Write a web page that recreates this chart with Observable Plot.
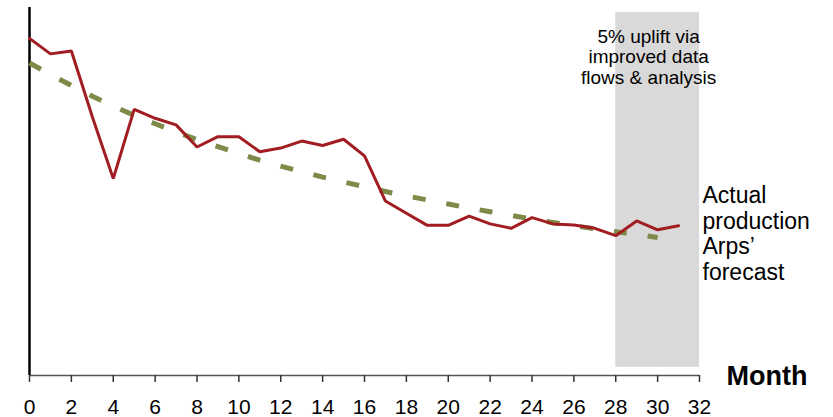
<!DOCTYPE html>
<html>
<head>
<meta charset="utf-8">
<script src="https://cdn.jsdelivr.net/npm/d3@7"></script>
<script src="https://cdn.jsdelivr.net/npm/@observablehq/plot@0.6"></script>
<style>
  html, body { margin: 0; padding: 0; background: #fff; }
  #chart { width: 833px; height: 417px; }
</style>
</head>
<body>
<div id="chart"></div>
<script>
// Months
const actualMonths = [0,1,2,3,4,5,6,7,8,9,10,11,12,13,14,15,16,17,18,19,20,21,22,23,24,25,26,27,28,29,30,31];
// Actual production (index, arbitrary units)
const actualValues = [91.6,87.4,88.2,70.3,53.5,72.3,69.9,68.1,62.1,64.9,64.9,60.8,61.8,63.7,62.5,64.2,59.7,47.4,44.1,40.8,40.8,43.3,41.2,40.0,42.9,41.2,40.9,40.0,38.0,42.0,39.6,40.7];
// Arps' forecast
const forecastMonths = [0,1,2,3,4,5,6,7,8,9,10,11,12,13,14,15,16,17,18,19,20,21,22,23,24,25,26,27,28,29,30];
const forecastValues = [84.9,81.8,78.8,75.9,73.2,70.7,68.4,66.2,64.1,62.2,60.3,58.5,56.9,55.4,53.9,52.6,51.3,50.0,48.8,47.7,46.6,45.5,44.5,43.5,42.5,41.6,40.7,39.9,39.1,38.3,37.5];
// Tick labels
const xTicks = [0,2,4,6,8,10,12,14,16,18,20,22,24,26,28,30,32];
// Highlighted period
const uplift = {x1: 28, x2: 32, y1: 2.2, y2: 98.6};
// Texts
const upliftLabel = "5% uplift via\nimproved data\nflows & analysis";
const seriesLabels = [
  {label: "Actual\nproduction", y: 51.8},
  {label: "Arps\u2019\nforecast", y: 37.9}
];
const xLabel = "Month";

const actual = actualMonths.map((m, i) => ({month: m, value: actualValues[i]}));
const forecast = forecastMonths.map((m, i) => ({month: m, value: forecastValues[i]}));

const chart = Plot.plot({
  width: 833,
  height: 417,
  marginLeft: 29,
  marginRight: 134,
  marginTop: 7,
  marginBottom: 42,
  style: {fontFamily: "'Liberation Sans', Arial, sans-serif", fontSize: "21px", color: "#000", background: "#fff"},
  x: {domain: [0, 32], axis: null},
  y: {domain: [0, 100], axis: null},
  marks: [
    Plot.rect([uplift], {x1: "x1", x2: "x2", y1: "y1", y2: "y2", fill: "#D9D9D9"}),
    Plot.text([upliftLabel], {x: 30, y: 94.4, text: d => d, dx: -9, fontSize: 19, lineHeight: 1.08, lineAnchor: "top", textAnchor: "middle", fill: "#000"}),
    Plot.ruleY([0], {x1: 0, x2: 32, stroke: "#555", strokeWidth: 1.5}),
    Plot.tickX(xTicks, {x: d => d, y1: 0, y2: 0, stroke: "none"}),
    Plot.axisX({ticks: xTicks, tickSize: 7, tickPadding: 17, tickFormat: d => String(d), stroke: "#333", strokeWidth: 1.5, fontSize: 21, fill: "#000"}),
    Plot.ruleX([0], {y1: 0, y2: 100, stroke: "#000", strokeWidth: 2.5}),
    Plot.line(forecast, {x: "month", y: "value", stroke: "#7D8A48", strokeWidth: 5, strokeDasharray: "13,21", strokeLinecap: "butt"}),
    Plot.line(actual, {x: "month", y: "value", stroke: "#A11D21", strokeWidth: 3, strokeLinejoin: "miter"}),
    Plot.text(seriesLabels, {x: 32, y: "y", text: "label", dx: 3, fontSize: 23, lineHeight: 1.11, lineAnchor: "top", textAnchor: "start", fill: "#000"}),
    Plot.text([xLabel], {x: 32, y: 0, text: d => d, dx: 27, dy: 1, fontSize: 27, fontWeight: "bold", textAnchor: "start", fill: "#000"})
  ]
});
document.getElementById("chart").appendChild(chart);
</script>
</body>
</html>
